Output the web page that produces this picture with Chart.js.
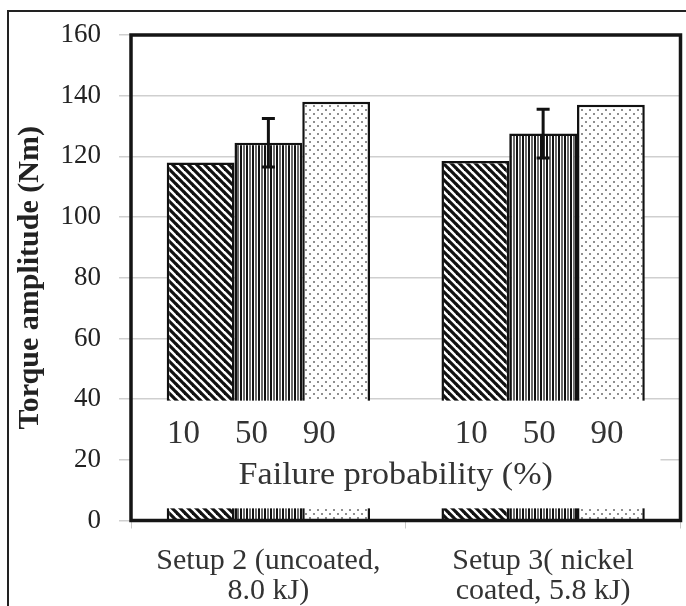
<!DOCTYPE html>
<html>
<head>
<meta charset="utf-8">
<script src="https://cdn.jsdelivr.net/npm/chart.js@4.4.0/dist/chart.umd.min.js"></script>
<style>
  html, body { margin: 0; padding: 0; background: #fff; overflow: hidden; }
  #wrap { position: relative; width: 686px; height: 606px; overflow: hidden; }
  #wrap canvas { position: absolute; left: 0; top: 0; }
  #frame { position: absolute; left: 7px; top: 10px; width: 720px; height: 640px; border-left: 2.5px solid #222; border-top: 2.5px solid #222; pointer-events: none; }
</style>
</head>
<body>
<div id="wrap">
  <canvas id="torqueChart" width="686" height="606"></canvas>
  <div id="frame"></div>
</div>
<script>
// categories and values
const setups = [['Setup 2 (uncoated,', '8.0 kJ)'], ['Setup 3( nickel', 'coated, 5.8 kJ)']];
const probLabels = ['10', '50', '90'];
const torque10 = [118, 118.5];
const torque50 = [124.5, 127.5];
const torque90 = [138, 137];
const error50 = [8, 8];
const yMin = 0, yMax = 160, yStep = 20;
const xTitle = 'Failure probability (%)';
const yTitle = 'Torque amplitude (Nm)';

const serif = '"Liberation Serif", "Times New Roman", serif';
let canvas = document.getElementById('torqueChart');
let ctx = canvas.getContext('2d');

//small tiles used as bar fills
function makePattern(w, h, draw) {
    let c = document.createElement('canvas');
    c.width = w;
    c.height = h;
    let g = c.getContext('2d');
    g.fillStyle = '#fff';
    g.fillRect(0, 0, w, h);
    draw(g);
    return ctx.createPattern(c, 'repeat');
}

let hatch = makePattern(8, 8, function (g) {
    g.strokeStyle = '#111';
    g.lineWidth = 3.2;
    [-8, 0, 8].forEach(function (k) {
        g.beginPath();
        g.moveTo(k - 1, -1);
        g.lineTo(k + 9, 9);
        g.stroke();
    });
});

let stripes = makePattern(6, 4, function (g) {
    g.fillStyle = '#111';
    g.fillRect(0, 0, 2, 4);
    g.fillStyle = '#6a6a6a';
    g.fillRect(3, 0, 2, 4);
});

let dots = makePattern(8, 8, function (g) {
    g.fillStyle = '#8f8f8f';
    g.fillRect(1, 1, 2, 2);
    g.fillRect(5, 5, 2, 2);
});

//white inset box, probability labels, error bars and the plot frame
const overlayPlugin = {
    id: 'overlay',
    afterDatasetsDraw(chart) {
        const c = chart.ctx;
        const a = chart.chartArea;
        const y = chart.scales.y;
        c.save();

        let boxTop = y.getPixelForValue(39.5);
        let boxBottom = y.getPixelForValue(4);
        c.fillStyle = '#fff';
        c.fillRect(a.left, boxTop, a.right - 20 - a.left, boxBottom - boxTop);

        c.fillStyle = '#333';
        c.font = '33px ' + serif;
        c.textAlign = 'center';
        c.textBaseline = 'middle';
        const shift = [-17, -4];
        chart.data.datasets.forEach(function (ds, i) {
            chart.getDatasetMeta(i).data.forEach(function (bar, j) {
                c.fillText(probLabels[i], bar.x + shift[j], y.getPixelForValue(28.5));
            });
        });

        c.font = '31px ' + serif;
        c.textBaseline = 'alphabetic';
        c.save();
        c.translate((a.left + a.right) / 2 - 10, y.getPixelForValue(11.9));
        c.scale(1.1, 1);
        c.fillText(xTitle, 0, 0);
        c.restore();

        c.strokeStyle = '#111';
        c.lineWidth = 3;
        chart.getDatasetMeta(1).data.forEach(function (bar, j) {
            let hi = y.getPixelForValue(torque50[j] + error50[j]);
            let lo = y.getPixelForValue(torque50[j] - error50[j]);
            c.beginPath();
            c.moveTo(bar.x, hi);
            c.lineTo(bar.x, lo);
            c.moveTo(bar.x - 6.5, hi);
            c.lineTo(bar.x + 6.5, hi);
            c.moveTo(bar.x - 6.5, lo);
            c.lineTo(bar.x + 6.5, lo);
            c.stroke();
        });

        c.strokeStyle = '#151515';
        c.lineWidth = 3.5;
        c.strokeRect(a.left, a.top, a.width, a.height);
        c.restore();
    }
};

let barStyle = { borderColor: '#111', borderWidth: 2.5 };

let torqueChart = new Chart(ctx, {
    type: 'bar',
    data: {
        labels: setups,
        datasets: [
            Object.assign({ label: probLabels[0], data: torque10, backgroundColor: hatch }, barStyle),
            Object.assign({ label: probLabels[1], data: torque50, backgroundColor: stripes }, barStyle),
            Object.assign({ label: probLabels[2], data: torque90, backgroundColor: dots }, barStyle)
        ]
    },
    options: {
        responsive: false,
        animation: false,
        devicePixelRatio: 1,
        categoryPercentage: 0.74,
        barPercentage: 1,
        layout: { padding: { top: 35, right: 5.5, left: 0, bottom: 0 } },
        plugins: { legend: { display: false }, tooltip: { enabled: false } },
        scales: {
            x: {
                grid: { drawOnChartArea: false, tickLength: 8, color: '#c8c8c8', offset: true },
                border: { display: false },
                ticks: { font: { family: serif, size: 30, lineHeight: 1.02 }, color: '#333', padding: 17, maxRotation: 0, autoSkip: false },
                afterFit: function (s) { s.height = 85.5; }
            },
            y: {
                min: yMin,
                max: yMax,
                ticks: { stepSize: yStep, font: { family: serif, size: 27 }, color: '#222', padding: 18 },
                grid: { color: '#cfcfcf', lineWidth: 1.5, tickLength: 12 },
                border: { display: false },
                title: { display: true, text: yTitle, color: '#222', font: { family: serif, size: 30, weight: 'bold', lineHeight: 1 }, padding: { top: 15, bottom: 0 } },
                afterFit: function (s) { s.width = 131; }
            }
        }
    },
    plugins: [overlayPlugin]
});
</script>
</body>
</html>
